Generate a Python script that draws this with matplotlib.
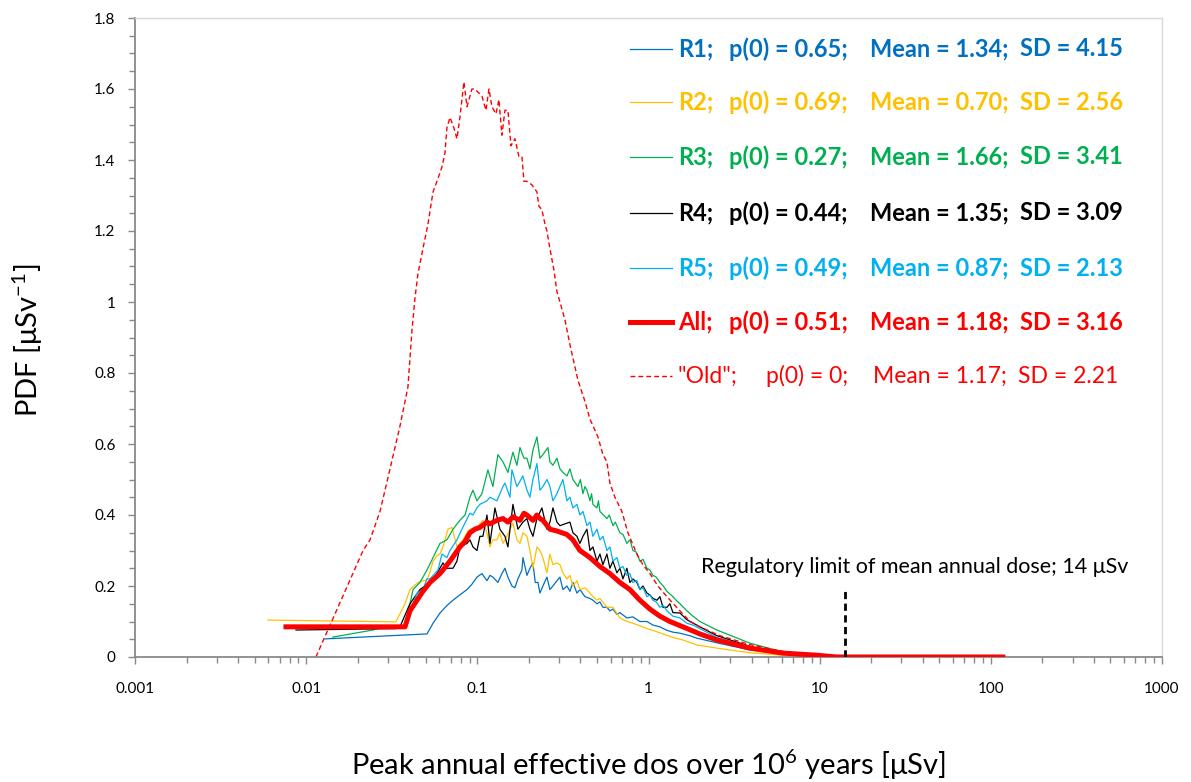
import matplotlib
matplotlib.use("Agg")
import matplotlib.pyplot as plt
from matplotlib.lines import Line2D
from matplotlib.ticker import FixedLocator, LogLocator, NullFormatter

plt.rcParams['font.family'] = ['Lato', 'DejaVu Sans']
plt.rcParams['mathtext.fontset'] = 'custom'
plt.rcParams['mathtext.rm'] = 'Lato'
plt.rcParams['mathtext.it'] = 'Lato:italic'

# --- PDF curves: dose [uSv] vs density [1/uSv] ---
r1_x = [0.0129, 0.0508, 0.0551, 0.0605, 0.0664, 0.0721, 0.0791, 0.0870, 0.0930, 0.0995,
        0.1064, 0.1138, 0.1185, 0.1233, 0.1319, 0.1392, 0.1450, 0.1509, 0.1593, 0.1658,
        0.1726, 0.1822, 0.1847, 0.1949, 0.2029, 0.2113, 0.218, 0.2259, 0.2321, 0.2416,
        0.2550, 0.2655, 0.2765, 0.2917, 0.3038, 0.3162, 0.3338, 0.3475, 0.3618, 0.3818,
        0.3975, 0.4253, 0.4549, 0.4735, 0.4998, 0.5203, 0.5417, 0.5715, 0.5950, 0.6197,
        0.6538, 0.6807, 0.7477, 0.8107, 0.8908, 0.9788, 1.061, 1.166, 1.281, 1.389,
        1.526, 1.745, 1.917, 2.509, 3.911, 6.095, 8.768, 12.61]
r1_y = [0.051, 0.065, 0.095, 0.124, 0.145, 0.160, 0.175, 0.190, 0.205, 0.225,
        0.235, 0.215, 0.230, 0.225, 0.210, 0.235, 0.250, 0.225, 0.200, 0.195,
        0.220, 0.245, 0.280, 0.230, 0.250, 0.265, 0.210, 0.210, 0.180, 0.200,
        0.225, 0.190, 0.200, 0.215, 0.225, 0.190, 0.200, 0.185, 0.210, 0.180,
        0.190, 0.170, 0.165, 0.160, 0.150, 0.155, 0.140, 0.140, 0.130, 0.135,
        0.120, 0.125, 0.110, 0.113, 0.100, 0.100, 0.090, 0.085, 0.075, 0.070,
        0.067, 0.060, 0.053, 0.040, 0.020, 0.010, 0.003, 0.0]

r2_x = [0.00598, 0.0334, 0.0378, 0.0404, 0.0450, 0.0481, 0.0508, 0.0529, 0.0551, 0.0581,
        0.0605, 0.0630, 0.0674, 0.0711, 0.0760, 0.0791, 0.0824, 0.0870, 0.0905, 0.0995,
        0.1078, 0.1138, 0.1185, 0.1233, 0.1302, 0.1355, 0.1411, 0.1489, 0.1551, 0.1614,
        0.1703, 0.1774, 0.1847, 0.1949, 0.2029, 0.2113, 0.2229, 0.2321, 0.2416, 0.2550,
        0.2655, 0.2765, 0.2917, 0.3038, 0.3162, 0.3338, 0.3475, 0.3618, 0.3818, 0.3975,
        0.4253, 0.4549, 0.4735, 0.4998, 0.5203, 0.5715, 0.6197, 0.6807, 0.7477, 0.8107,
        0.8908, 0.9788, 1.061, 1.214, 1.389, 1.589, 1.917, 2.509, 3.911, 6.095, 8.768, 12.61]
r2_y = [0.104, 0.099, 0.150, 0.190, 0.210, 0.215, 0.217, 0.240, 0.270, 0.285,
        0.290, 0.310, 0.360, 0.365, 0.310, 0.320, 0.330, 0.350, 0.360, 0.365,
        0.385, 0.350, 0.310, 0.330, 0.330, 0.350, 0.320, 0.340, 0.360, 0.377,
        0.330, 0.320, 0.350, 0.340, 0.300, 0.250, 0.310, 0.300, 0.280, 0.237,
        0.290, 0.260, 0.265, 0.260, 0.237, 0.220, 0.230, 0.200, 0.215, 0.190,
        0.195, 0.180, 0.170, 0.160, 0.165, 0.140, 0.140, 0.110, 0.100, 0.095,
        0.088, 0.080, 0.075, 0.065, 0.055, 0.048, 0.034, 0.025, 0.012, 0.005, 0.002, 0.0]

r3_x = [0.0143, 0.0245, 0.0270, 0.0378, 0.0421, 0.0462, 0.0508, 0.0551, 0.0605, 0.0664,
        0.0721, 0.0791, 0.0847, 0.0905, 0.0943, 0.0995, 0.1064, 0.1153, 0.1233, 0.1319,
        0.1411, 0.1509, 0.1614, 0.1703, 0.1774, 0.1872, 0.1949, 0.2029, 0.2113, 0.2229,
        0.2321, 0.2416, 0.2584, 0.2655, 0.2765, 0.2917, 0.3038, 0.3162, 0.3338, 0.3475,
        0.3618, 0.3869, 0.400, 0.4139, 0.425, 0.4369, 0.4549, 0.465, 0.4735, 0.4998,
        0.510, 0.5203, 0.545, 0.5715, 0.590, 0.6197, 0.640, 0.6807, 0.710, 0.7477,
        0.780, 0.8107, 0.850, 0.8908, 0.930, 0.9788, 1.020, 1.061, 1.110, 1.166,
        1.220, 1.281, 1.389, 1.450, 1.526, 1.676, 1.817, 1.996, 2.509, 3.911,
        6.095, 7.979, 12.61]
r3_y = [0.056, 0.076, 0.082, 0.085, 0.190, 0.210, 0.245, 0.280, 0.320, 0.330,
        0.360, 0.385, 0.400, 0.450, 0.470, 0.440, 0.460, 0.527, 0.480, 0.570,
        0.550, 0.520, 0.577, 0.540, 0.590, 0.560, 0.560, 0.530, 0.583, 0.620,
        0.560, 0.570, 0.590, 0.550, 0.540, 0.560, 0.530, 0.520, 0.510, 0.530,
        0.500, 0.480, 0.500, 0.460, 0.480, 0.470, 0.440, 0.460, 0.430, 0.420,
        0.440, 0.410, 0.400, 0.390, 0.400, 0.370, 0.380, 0.350, 0.345, 0.320,
        0.330, 0.300, 0.295, 0.270, 0.275, 0.250, 0.245, 0.230, 0.225, 0.210,
        0.200, 0.185, 0.170, 0.160, 0.150, 0.130, 0.115, 0.100, 0.076, 0.039,
        0.014, 0.005, 0.0]

r4_x = [0.00872, 0.0334, 0.0353, 0.0404, 0.0462, 0.0551, 0.0630, 0.0664, 0.0721, 0.0760,
        0.0791, 0.0870, 0.0905, 0.0943, 0.0995, 0.1035, 0.1078, 0.1138, 0.1185, 0.1267,
        0.1355, 0.1450, 0.1509, 0.1614, 0.1726, 0.1847, 0.1949, 0.2029, 0.2113, 0.2229,
        0.2384, 0.2550, 0.2655, 0.2765, 0.2917, 0.3038, 0.3249, 0.3475, 0.3618, 0.3818,
        0.3975, 0.4139, 0.4369, 0.4549, 0.4735, 0.4998, 0.5203, 0.5417, 0.5715, 0.5950,
        0.6197, 0.6538, 0.6807, 0.709, 0.7477, 0.7786, 0.8107, 0.8554, 0.8908, 0.9276,
        0.9788, 1.019, 1.061, 1.120, 1.166, 1.214, 1.281, 1.334, 1.389, 1.526,
        1.676, 1.817, 1.996, 2.509, 3.911, 6.095, 8.768, 12.61]
r4_y = [0.076, 0.080, 0.085, 0.150, 0.190, 0.217, 0.265, 0.250, 0.250, 0.270,
        0.310, 0.320, 0.330, 0.310, 0.300, 0.340, 0.340, 0.400, 0.320, 0.420,
        0.360, 0.340, 0.310, 0.430, 0.360, 0.380, 0.390, 0.360, 0.340, 0.390,
        0.420, 0.360, 0.380, 0.420, 0.380, 0.370, 0.375, 0.380, 0.350, 0.340,
        0.320, 0.340, 0.360, 0.300, 0.310, 0.270, 0.290, 0.260, 0.290, 0.250,
        0.270, 0.237, 0.250, 0.220, 0.250, 0.210, 0.220, 0.210, 0.190, 0.200,
        0.180, 0.175, 0.165, 0.160, 0.170, 0.140, 0.140, 0.150, 0.125, 0.124,
        0.105, 0.096, 0.085, 0.060, 0.030, 0.010, 0.003, 0.0]

r5_x = [0.01205, 0.0378, 0.0444, 0.0481, 0.0508, 0.0529, 0.0589, 0.0621, 0.0664, 0.0692,
        0.0760, 0.0824, 0.0905, 0.0943, 0.0995, 0.1035, 0.1138, 0.1185, 0.1302, 0.1411,
        0.1450, 0.1551, 0.1593, 0.1703, 0.1847, 0.1949, 0.2029, 0.2113, 0.2229, 0.2321,
        0.2416, 0.2550, 0.2655, 0.2765, 0.2917, 0.3162, 0.3338, 0.3475, 0.3618, 0.3818,
        0.3975, 0.4139, 0.4369, 0.4549, 0.4735, 0.4998, 0.5203, 0.5417, 0.5715, 0.5950,
        0.6197, 0.6538, 0.6807, 0.709, 0.7477, 0.7786, 0.8107, 0.8554, 0.8908, 0.930,
        0.9788, 1.020, 1.061, 1.110, 1.166, 1.220, 1.281, 1.389, 1.526, 1.676,
        1.817, 1.996, 2.509, 3.911, 6.095, 8.768, 12.61]
r5_y = [0.082, 0.085, 0.180, 0.190, 0.220, 0.220, 0.245, 0.290, 0.280, 0.300,
        0.330, 0.366, 0.405, 0.400, 0.420, 0.430, 0.440, 0.450, 0.440, 0.480,
        0.490, 0.450, 0.527, 0.480, 0.510, 0.470, 0.450, 0.500, 0.545, 0.470,
        0.480, 0.500, 0.480, 0.440, 0.460, 0.500, 0.440, 0.450, 0.420, 0.430,
        0.400, 0.410, 0.370, 0.380, 0.340, 0.360, 0.330, 0.340, 0.300, 0.310,
        0.270, 0.280, 0.250, 0.255, 0.230, 0.235, 0.210, 0.215, 0.190, 0.195,
        0.170, 0.175, 0.160, 0.155, 0.140, 0.145, 0.130, 0.115, 0.110, 0.095,
        0.090, 0.080, 0.055, 0.028, 0.010, 0.003, 0.0]

all_x = [0.00762, 0.0378, 0.0404, 0.0444, 0.0481, 0.0529, 0.0605, 0.0692, 0.0791, 0.0847,
         0.0905, 0.0968, 0.1035, 0.1138, 0.1185, 0.1302, 0.1411, 0.1509, 0.1614, 0.1774,
         0.1872, 0.1949, 0.2113, 0.2229, 0.2321, 0.2416, 0.2655, 0.2917, 0.3338, 0.3618,
         0.3975, 0.4549, 0.5203, 0.5950, 0.6807, 0.7786, 0.8908, 1.019, 1.166, 1.334,
         1.589, 1.996, 2.509, 3.911, 6.095, 9.630, 12.61, 117.5]
all_y = [0.085, 0.085, 0.130, 0.160, 0.185, 0.210, 0.235, 0.270, 0.310, 0.325,
         0.350, 0.360, 0.365, 0.380, 0.375, 0.385, 0.390, 0.380, 0.395, 0.385,
         0.405, 0.400, 0.385, 0.400, 0.390, 0.385, 0.360, 0.355, 0.345, 0.330,
         0.300, 0.280, 0.255, 0.235, 0.210, 0.190, 0.160, 0.135, 0.115, 0.100,
         0.085, 0.065, 0.048, 0.025, 0.011, 0.005, 0.0, 0.0]

old_x = [0.0114, 0.0215, 0.0236, 0.0270, 0.0309, 0.0353, 0.0393, 0.0415, 0.0432, 0.0450,
         0.0481, 0.0515, 0.0551, 0.0581, 0.0621, 0.0647, 0.0664, 0.0692, 0.0730, 0.0760,
         0.0791, 0.0835, 0.0870, 0.0930, 0.0968, 0.1064, 0.1123, 0.1169, 0.1217, 0.1284,
         0.1337, 0.1392, 0.1450, 0.1509, 0.1572, 0.1658, 0.1750, 0.1822, 0.1872, 0.1949,
         0.2084, 0.2229, 0.2290, 0.2384, 0.2482, 0.2550, 0.2655, 0.2802, 0.2917, 0.3038,
         0.3249, 0.3475, 0.3869, 0.4253, 0.4549, 0.5065, 0.5417, 0.5715, 0.5950, 0.6365,
         0.6993, 0.7579, 0.8554, 0.9276, 1.019, 1.135, 1.281, 1.526, 1.745, 1.996,
         2.613, 3.911, 5.855, 8.768, 13.12]
old_y = [0.0, 0.30, 0.33, 0.41, 0.53, 0.65, 0.76, 0.92, 1.01, 1.08,
         1.15, 1.22, 1.31, 1.34, 1.38, 1.42, 1.49, 1.52, 1.49, 1.46,
         1.52, 1.62, 1.55, 1.60, 1.60, 1.58, 1.54, 1.60, 1.55, 1.53,
         1.57, 1.47, 1.54, 1.54, 1.44, 1.46, 1.41, 1.41, 1.34, 1.34,
         1.33, 1.31, 1.27, 1.26, 1.22, 1.20, 1.15, 1.09, 1.03, 1.00,
         0.95, 0.88, 0.78, 0.72, 0.67, 0.62, 0.57, 0.55, 0.49, 0.45,
         0.41, 0.35, 0.29, 0.26, 0.235, 0.20, 0.17, 0.13, 0.10, 0.085,
         0.06, 0.035, 0.017, 0.006, 0.0]

reg_limit = 14.0

# legend rows: label pieces
row_labels = ["R1;", "R2;", "R3;", "R4;", "R5;", "All;", '"Old";']
row_p0 = ["p(0) = 0.65;", "p(0) = 0.69;", "p(0) = 0.27;", "p(0) = 0.44;",
          "p(0) = 0.49;", "p(0) = 0.51;", "p(0) = 0;"]
row_mean = ["Mean = 1.34;", "Mean = 0.70;", "Mean = 1.66;", "Mean = 1.35;",
            "Mean = 0.87;", "Mean = 1.18;", "Mean = 1.17;"]
row_sd = ["SD = 4.15", "SD = 2.56", "SD = 3.41", "SD = 3.09",
          "SD = 2.13", "SD = 3.16", "SD = 2.21"]

c_r1, c_r2, c_r3, c_r4, c_r5, c_all = "#0070C0", "#FFC000", "#00B050", "#000000", "#00B0F0", "#FF0000"

W, H = 1191, 782
fig = plt.figure(figsize=(W / 100, H / 100), dpi=100)
ax = fig.add_axes([135 / W, 1 - 657 / H, (1162 - 135) / W, (657 - 18) / H])

ax.plot(r1_x, r1_y, color=c_r1, lw=0.9, zorder=2)
ax.plot(r2_x, r2_y, color=c_r2, lw=0.9, zorder=2)
ax.plot(r3_x, r3_y, color=c_r3, lw=0.9, zorder=2)
ax.plot(r4_x, r4_y, color=c_r4, lw=0.9, zorder=2)
ax.plot(r5_x, r5_y, color=c_r5, lw=0.9, zorder=2)
ax.plot(old_x, old_y, color=c_all, lw=1.0, dashes=(3.5, 2.2), zorder=2.5)
ax.plot(all_x, all_y, color=c_all, lw=3.6, zorder=3, solid_joinstyle='round')

ax.plot([reg_limit, reg_limit], [0, 0.197], color="black", lw=2.0, dashes=(2.6, 1.6), zorder=4)
ax.text(36, 0.254, "Regulatory limit of mean annual dose; 14 \u03bcSv", ha="center",
        va="center", fontsize=15.5)

ax.set_xscale("log")
ax.set_xlim(0.001, 1000)
ax.set_ylim(0, 1.8)
ax.xaxis.set_major_locator(FixedLocator([0.001, 0.01, 0.1, 1, 10, 100, 1000]))
ax.set_xticklabels(["0.001", "0.01", "0.1", "1", "10", "100", "1000"])
ax.xaxis.set_minor_locator(LogLocator(base=10, subs=range(2, 10), numticks=20))
ax.xaxis.set_minor_formatter(NullFormatter())
ax.set_yticks([0, 0.2, 0.4, 0.6, 0.8, 1.0, 1.2, 1.4, 1.6, 1.8])
ax.set_yticklabels(["0", "0.2", "0.4", "0.6", "0.8", "1", "1.2", "1.4", "1.6", "1.8"])
ax.set_yticks([i * 0.05 for i in range(37)], minor=True)

gray = "#898989"
for side in ["left", "bottom"]:
    ax.spines[side].set_color(gray)
    ax.spines[side].set_linewidth(1.3)
for side in ["top", "right"]:
    ax.spines[side].set_color("#D9D9D9")
    ax.spines[side].set_linewidth(1.0)
ax.tick_params(axis="both", which="both", direction="out", color=gray, width=1.0)
ax.tick_params(axis="both", which="major", length=5, labelsize=11)
ax.tick_params(axis="both", which="minor", length=4)
ax.tick_params(axis="y", pad=9)
ax.tick_params(axis="x", pad=13)

fig.text(28 / W, 1 - 340 / H, r"PDF [$\mathrm{\mu}$Sv$^{-1}$]", rotation=90, ha="center",
         va="center", fontsize=21)
fig.text(648 / W, 1 - 765 / H, r"Peak annual effective dos over 10$^{6}$ years [$\mathrm{\mu}$Sv]",
         ha="center", va="center", fontsize=21)

# hand-built legend block
row_y = [49, 102, 157, 213, 268, 322, 376]
row_colors = [c_r1, c_r2, c_r3, c_r4, c_r5, c_all, c_all]
for i in range(7):
    yy = 1 - row_y[i] / H
    col = row_colors[i]
    if i == 5:
        fig.add_artist(Line2D([630 / W, 672 / W], [yy, yy], color=col, lw=3.6))
    elif i == 6:
        fig.add_artist(Line2D([630 / W, 672 / W], [yy, yy], color=col, lw=1.0, dashes=(3.5, 2.2)))
    else:
        fig.add_artist(Line2D([630 / W, 672 / W], [yy, yy], color=col, lw=0.9))
    if i == 6:
        weight = "normal"
        size = 16.5
        xs = [678, 766, 873, 1018]
    else:
        weight = "bold"
        size = 17
        xs = [678, 729, 870, 1020]
    pieces = [row_labels[i], row_p0[i], row_mean[i], row_sd[i]]
    for x, s in zip(xs, pieces):
        fig.text(x / W, yy, s, color=col, fontsize=size, fontweight=weight, ha="left", va="center")

fig.savefig("out.png", dpi=100)
